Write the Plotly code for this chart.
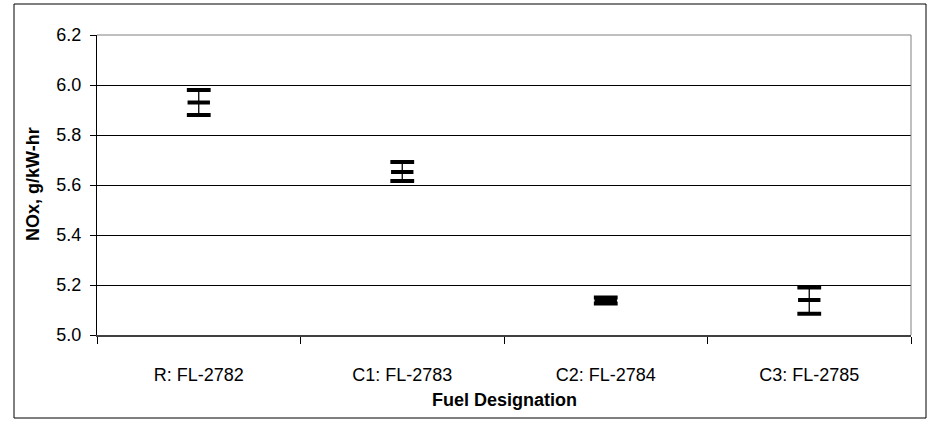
import plotly.graph_objects as go

categories = ["R: FL-2782", "C1: FL-2783", "C2: FL-2784", "C3: FL-2785"]
nox_mean = [5.93, 5.652, 5.138, 5.14]
nox_upper = [5.98, 5.692, 5.150, 5.19]
nox_lower = [5.88, 5.616, 5.126, 5.085]
y_ticks = [5.0, 5.2, 5.4, 5.6, 5.8, 6.0, 6.2]

err_plus = [u - m for u, m in zip(nox_upper, nox_mean)]
err_minus = [m - l for m, l in zip(nox_mean, nox_lower)]

FONT = "Liberation Sans, Arial, sans-serif"
FS = 18

fig = go.Figure()
fig.add_trace(go.Scatter(
    x=categories, y=nox_mean, mode="markers",
    marker=dict(symbol="line-ew", size=16, line=dict(width=4, color="black"), color="black"),
    error_y=dict(type="data", array=err_plus, arrayminus=err_minus,
                 thickness=1.3, width=0, color="black"),
    showlegend=False, hoverinfo="skip",
))
fig.add_trace(go.Scatter(
    x=categories + categories, y=nox_upper + nox_lower, mode="markers",
    marker=dict(symbol="line-ew", size=17, line=dict(width=4, color="black"), color="black"),
    showlegend=False, hoverinfo="skip",
))

L, R, T, B = 97, 25, 35, 86
W, H = 936, 421
pw, ph = W - L - R, H - T - B

def px_to_paper_x(px):
    return (px - L) / pw

def px_to_paper_y(py):
    return (H - B - py) / ph

fig.update_layout(
    width=W, height=H,
    margin=dict(l=L, r=R, t=T, b=B, pad=0),
    paper_bgcolor="white", plot_bgcolor="white",
    font=dict(family=FONT, size=FS, color="black"),
    xaxis=dict(
        type="category", tickson="boundaries", ticks="outside", ticklen=7,
        tickcolor="black", tickwidth=1, showline=True, linecolor="#404040",
        linewidth=2, showgrid=False, zeroline=False, ticklabelstandoff=22,
        tickfont=dict(family=FONT, size=FS), range=[-0.5, 3.5],
    ),
    yaxis=dict(
        range=[5.0, 6.2], tickvals=y_ticks, tickformat=".1f",
        ticks="outside", ticklen=6, tickcolor="black", showline=True,
        linecolor="black", linewidth=1, showgrid=True, gridcolor="black",
        gridwidth=1, zeroline=False, ticklabelstandoff=5,
        tickfont=dict(family=FONT, size=FS),
    ),
    shapes=[
        dict(type="rect", xref="paper", yref="paper",
             x0=px_to_paper_x(14), x1=px_to_paper_x(926),
             y0=px_to_paper_y(418), y1=px_to_paper_y(4),
             line=dict(color="black", width=1), layer="below"),
        dict(type="line", xref="paper", yref="paper", x0=0, x1=1, y0=1, y1=1,
             line=dict(color="#808080", width=1)),
        dict(type="line", xref="paper", yref="paper", x0=1, x1=1, y0=0, y1=1,
             line=dict(color="#808080", width=1)),
    ],
    annotations=[
        dict(text="<b>NOx, g/kW-hr</b>", xref="paper", yref="paper",
             x=px_to_paper_x(33), y=px_to_paper_y(184), textangle=-90,
             showarrow=False, xanchor="center", yanchor="middle",
             font=dict(family=FONT, size=FS)),
        dict(text="<b>Fuel Designation</b>", xref="paper", yref="paper",
             x=px_to_paper_x(504), y=px_to_paper_y(400),
             showarrow=False, xanchor="center", yanchor="middle",
             font=dict(family=FONT, size=FS)),
    ],
)

fig.write_html(
    "out.html",
    config={"displayModeBar": False},
    post_script="document.body.style.margin='0';document.body.style.overflow='hidden';",
)
